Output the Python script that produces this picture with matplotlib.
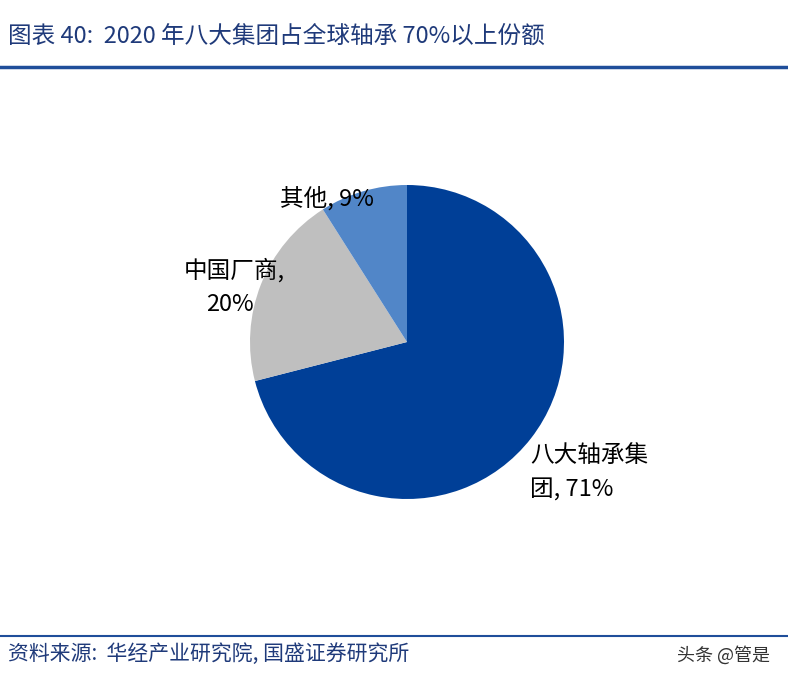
import matplotlib.pyplot as plt
import matplotlib.lines as mlines

plt.rcParams['font.family'] = ['Noto Sans CJK SC', 'DejaVu Sans']

categories = ['八大轴承集团', '中国厂商', '其他']
shares = [71, 20, 9]
colors = ['#003F97', '#BFBFBF', '#5186C8']

fig = plt.figure(figsize=(7.88, 6.81), dpi=100)

# pie centre near (407, 342) px, radius ~157 px
ax = fig.add_axes([(407 - 157) / 788, 1 - (342 + 157) / 681, 314 / 788, 314 / 681])
ax.pie(shares, colors=colors, startangle=90, counterclock=False,
       wedgeprops={'linewidth': 0})
ax.set_xlim(-1, 1)
ax.set_ylim(-1, 1)
ax.set_aspect('equal')

lab_kw = dict(fontsize=17, color='black')
fig.text(530 / 788, 1 - 455 / 681, '八大轴承集', ha='left', va='center', **lab_kw)
fig.text(530 / 788, 1 - 490 / 681, f'团, {shares[0]}%', ha='left', va='center', **lab_kw)
fig.text(285 / 788, 1 - 270 / 681, '中国厂商,', ha='right', va='center', **lab_kw)
fig.text(254 / 788, 1 - 305 / 681, f'{shares[1]}%', ha='right', va='center', **lab_kw)
fig.text(374 / 788, 1 - 198 / 681, f'其他, {shares[2]}%', ha='right', va='center', **lab_kw)

# title and rules
fig.text(8 / 788, 1 - 36 / 681, '图表 40:  2020 年八大集团占全球轴承 70%以上份额',
         fontsize=17, style='italic', color='#1F3A7A', ha='left', va='center')
fig.add_artist(mlines.Line2D([0, 1], [1 - 67 / 681] * 2, color='#1F4E9A', lw=2.5))
fig.add_artist(mlines.Line2D([0, 1], [1 - 636 / 681] * 2, color='#1F4E9A', lw=1.5))
fig.text(8 / 788, 1 - 654 / 681, '资料来源:  华经产业研究院, 国盛证券研究所',
         fontsize=15, style='italic', color='#1F3A7A', ha='left', va='center')
fig.text(770 / 788, 1 - 655 / 681, '头条 @管是', fontsize=13, color='#333333',
         ha='right', va='center')

fig.savefig('out.png', dpi=100)
